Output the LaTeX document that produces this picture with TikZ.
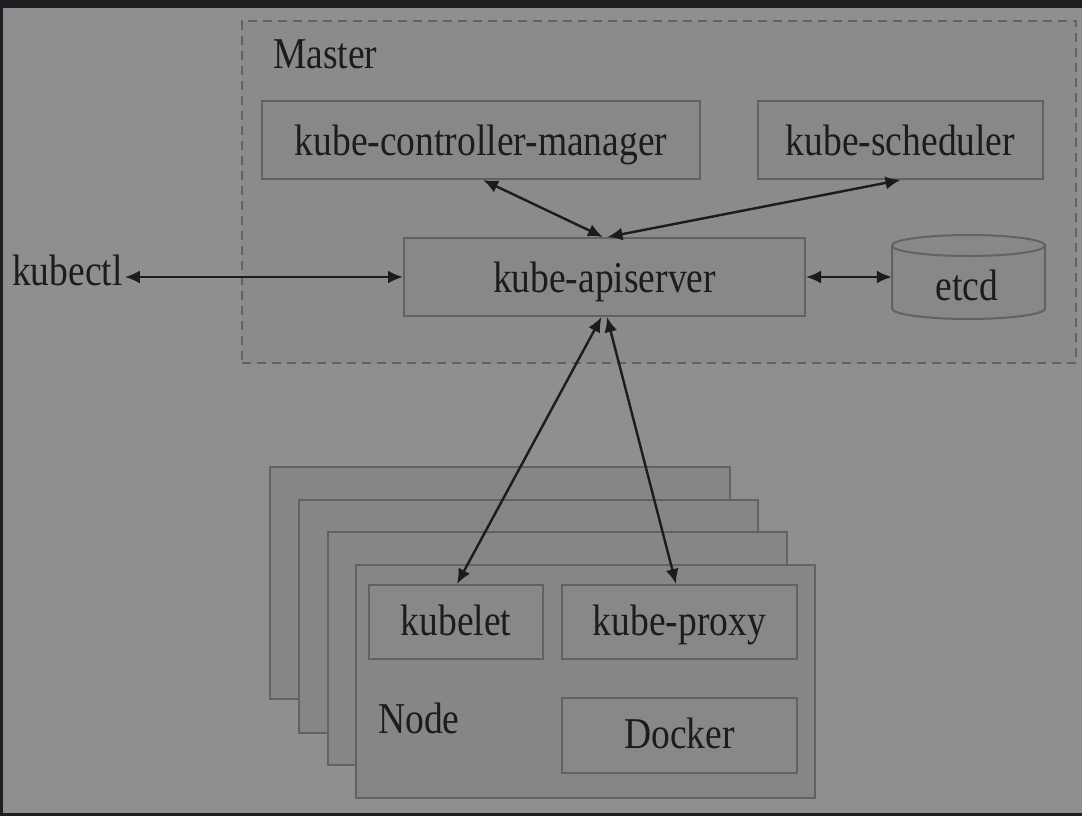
\documentclass[tikz,border=0pt]{standalone}
\usepackage{fontspec}
\setmainfont{Liberation Serif}[FakeStretch=0.853]
\usetikzlibrary{arrows.meta}
\definecolor{framec}{RGB}{30,31,34}
\definecolor{bgc}{RGB}{143,143,143}
\definecolor{mfill}{RGB}{139,139,139}
\definecolor{boxfill}{RGB}{136,136,136}
\definecolor{stackfill}{RGB}{134,134,134}
\definecolor{borderc}{RGB}{98,98,98}
\definecolor{ink}{RGB}{28,28,30}
\begin{document}
\begin{tikzpicture}[x=1pt,y=-1pt,
  every node/.style={font=\fontsize{44}{50}\selectfont, text=ink},
  masterbox/.style={draw=borderc, fill=mfill, line width=2pt, dash pattern=on 9pt off 6pt, inner sep=0pt},
  compbox/.style={draw=borderc, fill=boxfill, line width=2pt, inner sep=1pt, text height=30pt, text depth=0pt, minimum height=78pt},
  smallbox/.style={draw=borderc, fill=boxfill, line width=2pt, inner sep=1pt, text depth=0pt},
  stackbox/.style={draw=borderc, fill=stackfill, line width=2pt, inner sep=0pt},
  label/.style={inner sep=0pt},
  link/.style={draw=ink, line width=2.4pt, {Latex[length=15pt,width=13pt]}-{Latex[length=15pt,width=13pt]}}
]
\fill[framec] (0,0) rectangle (1082,816);
\fill[bgc] (3,8) rectangle (1082,813);
\useasboundingbox (0,0) rectangle (1082,816);

% Master
\node[masterbox, minimum width=834pt, minimum height=342pt] (master) at (659,192) {};
\node[label, anchor=base west] (masterlbl) at (273,69) {Master};
\node[compbox, minimum width=438pt] (ctrl) at (481,140) {kube-controller-manager};
\node[compbox, minimum width=285pt] (sched) at (900.5,140) {kube-scheduler};
\node[compbox, minimum width=401pt] (api) at (604.5,277) {kube-apiserver};

% etcd cylinder
\node[minimum width=153pt, minimum height=84pt, inner sep=0pt] (etcd) at (968.5,277) {};
\draw[borderc, fill=boxfill, line width=2pt]
  (892,245.5) -- (892,308.5) arc[start angle=180, end angle=0, x radius=76.5, y radius=10.5]
  -- (1045,245.5) arc[start angle=0, end angle=-180, x radius=76.5, y radius=10.5] -- cycle;
\draw[borderc, line width=2pt] (892,245.5) arc[start angle=180, end angle=0, x radius=76.5, y radius=10.5];
\node[label, anchor=base] (etcdlbl) at (967,300) {etcd};

% kubectl
\node[inner sep=2pt, anchor=base west] (kubectl) at (10,285) {kubectl};

% Node stack
\node[stackbox, minimum width=460pt, minimum height=232pt] (n1) at (500,583) {};
\node[stackbox, minimum width=459pt, minimum height=233pt] (n2) at (528.5,616.5) {};
\node[stackbox, minimum width=459pt, minimum height=233pt] (n3) at (557.5,648.5) {};
\node[stackbox, minimum width=459pt, minimum height=233pt] (n4) at (585.5,681.5) {};
\node[smallbox, text height=26pt, minimum width=174pt, minimum height=74pt] (kubelet) at (456,622) {kubelet};
\node[smallbox, text height=26pt, minimum width=235pt, minimum height=74pt] (proxy) at (679.5,622) {kube-proxy};
\node[smallbox, text height=25pt, minimum width=235pt, minimum height=75pt] (docker) at (679.5,735.5) {Docker};
\node[label, anchor=base west] (nodelbl) at (378,733) {Node};

% connectors
\draw[link] (kubectl.east |- api.west) -- (api.west);
\draw[link] (api.east) -- (etcd.west);
\draw[link] ([xshift=2pt]ctrl.south) -- ([xshift=-1.5pt]api.north);
\draw[link] (sched.south) -- ([xshift=3pt]api.north);
\draw[link] ([xshift=-3pt]api.south) -- ([xshift=1pt]kubelet.north);
\draw[link] ([xshift=2.5pt]api.south) -- ([xshift=-3.5pt]proxy.north);
\end{tikzpicture}
\end{document}
